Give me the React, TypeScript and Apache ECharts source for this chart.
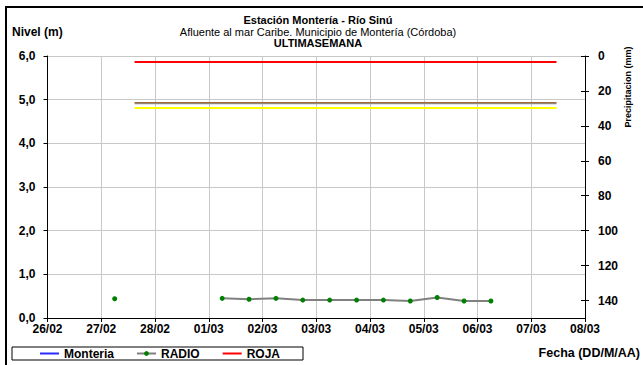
import React, { useEffect, useRef } from 'react';
import * as echarts from 'echarts';

const FONT = '"Liberation Sans", Arial, sans-serif';

// x axis: day index (0 = 26/02)
const dayLabels = ['26/02', '27/02', '28/02', '01/03', '02/03', '03/03', '04/03', '05/03', '06/03', '07/03', '08/03'];

// RADIO readings (day offset, level in m); null = gap in the record
const radioX = [1.25, 2.25, 3.25, 3.75, 4.25, 4.75, 5.25, 5.75, 6.25, 6.75, 7.25, 7.75, 8.25];
const radioY: (number | null)[] = [0.44, null, 0.45, 0.43, 0.45, 0.41, 0.41, 0.41, 0.41, 0.39, 0.47, 0.39, 0.39];

// Monteria series (no data in the week)
const monteriaX: number[] = [];
const monteriaY: number[] = [];

// Alert thresholds
const thresholdSpan = [1.62, 9.47];
const rojaLevel = 5.86;
const brownLevel = 4.93;
const greyLevel = 4.91;
const yellowLevel = 4.81;

const levelMax = 6;
const precipMax = 150;

export default function App() {
  const ref = useRef<HTMLDivElement>(null);

  useEffect(() => {
    if (!ref.current) return;
    const chart = echarts.init(ref.current, null, { renderer: 'svg' });

    const flat = (lvl: number) => [
      [thresholdSpan[0], lvl],
      [thresholdSpan[1], lvl],
    ];

    const labelStyle = { fontFamily: FONT, fontSize: 12, fontWeight: 'bold' as const, color: '#000' };

    chart.setOption({
      animation: false,
      backgroundColor: '#fff',
      grid: { left: 47.5, right: 58, top: 56, bottom: 47, containLabel: false },
      xAxis: {
        type: 'value',
        min: 0,
        max: dayLabels.length - 1,
        interval: 1,
        axisLine: { lineStyle: { color: '#000', width: 1 } },
        axisTick: { show: true, length: 4, lineStyle: { color: '#000' } },
        axisLabel: { ...labelStyle, margin: 5, formatter: (v: number) => dayLabels[Math.round(v)] ?? '' },
        splitLine: { show: true, lineStyle: { color: '#c8c8c8', width: 1 } },
      },
      yAxis: [
        {
          type: 'value',
          position: 'left',
          min: 0,
          max: levelMax,
          interval: 1,
          axisLine: { show: true, lineStyle: { color: '#000', width: 1 } },
          axisTick: { show: true, length: 4, lineStyle: { color: '#000' } },
          axisLabel: { ...labelStyle, margin: 12, formatter: (v: number) => v.toFixed(1).replace('.', ',') },
          splitLine: { show: true, lineStyle: { color: '#c8c8c8', width: 1 } },
        },
        {
          type: 'value',
          position: 'right',
          inverse: true,
          min: 0,
          max: precipMax,
          interval: 20,
          axisLine: { show: true, lineStyle: { color: '#000', width: 1 } },
          axisTick: { show: true, length: 4, lineStyle: { color: '#000' } },
          axisLabel: { ...labelStyle, margin: 13, showMaxLabel: false, formatter: (v: number) => (v === precipMax ? '' : String(v)) },
          splitLine: { show: false },
        },
        {
          type: 'value',
          position: 'right',
          inverse: true,
          min: 0,
          max: precipMax,
          interval: 20,
          axisLine: { show: false },
          axisTick: { show: true, inside: true, length: 4, lineStyle: { color: '#000' } },
          axisLabel: { show: false },
          splitLine: { show: false },
        },
      ],
      legend: {
        left: 12,
        top: 347,
        padding: [0, 23, 0, 27],
        itemGap: 22,
        itemWidth: 19,
        itemHeight: 6,
        borderColor: '#000',
        borderWidth: 1,
        borderRadius: 0,
        textStyle: { fontFamily: FONT, fontSize: 12, fontWeight: 'bold', color: '#000', lineHeight: 13 },
        data: ['Monteria', 'RADIO', 'ROJA'],
      },
      graphic: [
        {
          type: 'rect',
          shape: { x: 6, y: 7, width: 700, height: 400 },
          style: { fill: 'none', stroke: '#000', lineWidth: 2 },
          silent: true,
          z: -1,
        },
        {
          type: 'text',
          x: 318,
          y: 20,
          style: { text: 'Estación Montería - Río Sinú', font: `bold 11px ${FONT}`, fill: '#000', textAlign: 'center', textVerticalAlign: 'middle' },
        },
        {
          type: 'text',
          x: 318,
          y: 32,
          style: { text: 'Afluente al mar Caribe. Municipio de Montería (Córdoba)', font: `11px ${FONT}`, fill: '#000', textAlign: 'center', textVerticalAlign: 'middle' },
        },
        {
          type: 'text',
          x: 318,
          y: 43,
          style: { text: 'ULTIMASEMANA', font: `bold 11px ${FONT}`, fill: '#000', textAlign: 'center', textVerticalAlign: 'middle' },
        },
        {
          type: 'text',
          x: 12,
          y: 32,
          style: { text: 'Nivel (m)', font: `bold 12px ${FONT}`, fill: '#000', textAlign: 'left', textVerticalAlign: 'middle' },
        },
        {
          type: 'text',
          x: 628,
          y: 87,
          rotation: Math.PI / 2,
          style: { text: 'Precipitacion (mm)', font: `bold 9px ${FONT}`, fill: '#000', textAlign: 'center', textVerticalAlign: 'middle' },
        },
        {
          type: 'text',
          x: 640,
          y: 353,
          style: { text: 'Fecha (DD/M/AA)', font: `bold 12.5px ${FONT}`, fill: '#000', textAlign: 'right', textVerticalAlign: 'middle' },
        },
      ],
      series: [
        {
          name: 'Monteria',
          type: 'line',
          yAxisIndex: 0,
          showSymbol: false,
          symbol: 'none',
          lineStyle: { color: '#2a2aff', width: 2.5 },
          itemStyle: { color: 'rgba(0,0,0,0)' },
          data: monteriaX.map((x, i) => [x, monteriaY[i]]),
        },
        {
          name: 'yellow',
          type: 'line',
          yAxisIndex: 0,
          symbol: 'none',
          lineStyle: { color: '#ffff00', width: 2 },
          data: flat(yellowLevel),
        },
        {
          name: 'grey',
          type: 'line',
          yAxisIndex: 0,
          symbol: 'none',
          lineStyle: { color: '#909090', width: 1.2 },
          data: flat(greyLevel),
        },
        {
          name: 'brown',
          type: 'line',
          yAxisIndex: 0,
          symbol: 'none',
          lineStyle: { color: '#9a6b3f', width: 1.2 },
          data: flat(brownLevel),
        },
        {
          name: 'ROJA',
          type: 'line',
          yAxisIndex: 0,
          symbol: 'none',
          lineStyle: { color: '#ff0000', width: 2 },
          itemStyle: { color: 'rgba(0,0,0,0)' },
          data: flat(rojaLevel),
        },
        {
          name: 'RADIO',
          type: 'line',
          yAxisIndex: 0,
          symbol: 'circle',
          symbolSize: 5,
          showAllSymbol: true,
          connectNulls: false,
          lineStyle: { color: '#808080', width: 2 },
          itemStyle: { color: '#008000', borderWidth: 0 },
          data: radioX.map((x, i) => [x, radioY[i] === null ? '-' : radioY[i]]),
        },
      ],
    });

    return () => chart.dispose();
  }, []);

  return <div ref={ref} style={{ position: 'fixed', left: 0, top: 0, width: 643, height: 365 }} />;
}
